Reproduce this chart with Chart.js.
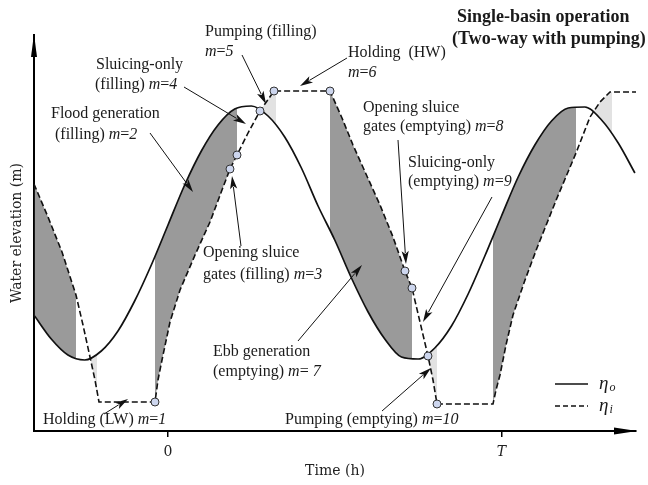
<!DOCTYPE html>
<html><head><meta charset="utf-8">
<script src="https://cdn.jsdelivr.net/npm/chart.js@4.4.1/dist/chart.umd.min.js"></script>
<style>html,body{margin:0;padding:0;background:#fff;}canvas{display:block;}</style>
</head><body>
<canvas id="c" width="648" height="485"></canvas>
<script>
// time in fractions of the tidal period T; elevation in m (schematic)
const oceanTime = [-0.40,-0.35,-0.30,-0.25,-0.20,-0.15,-0.10,-0.05,0.00,0.05,0.10,0.15,0.20,0.25,0.30,0.35,0.40,0.45,0.50,0.55,0.60,0.65,0.70,0.75,0.80,0.85,0.90,0.95,1.00,1.05,1.10,1.15,1.20,1.25,1.30,1.35,1.40];
const oceanLevel = [1.15,0.92,0.76,0.71,0.80,1.00,1.30,1.66,2.06,2.46,2.80,3.06,3.22,3.25,3.15,2.94,2.63,2.25,1.91,1.53,1.19,0.92,0.74,0.72,0.83,1.05,1.37,1.75,2.15,2.54,2.86,3.10,3.23,3.24,3.11,2.88,2.58];
const basinTime = [-0.4018,-0.3598,-0.3178,-0.2759,-0.2549,-0.2339,-0.2189,-0.2069,-0.0390,-0.0300,-0.0180,0.0060,0.0360,0.0810,0.1259,0.1619,0.1859,0.2069,0.2399,0.2759,0.2969,0.3178,0.4858,0.5217,0.5547,0.5937,0.6357,0.6747,0.7106,0.7316,0.7556,0.7796,0.7946,0.8066,0.9745,0.9835,0.9955,1.0135,1.0345,1.0705,1.1064,1.1664,1.1994,1.2234,1.2444,1.2654,1.2954,1.3253,1.4033];
const basinLevel = [2.47,2.14,1.79,1.36,1.06,0.74,0.51,0.29,0.29,0.51,0.71,1.09,1.41,1.76,2.09,2.41,2.62,2.76,2.98,3.20,3.30,3.40,3.40,3.13,2.86,2.57,2.26,1.94,1.60,1.43,1.09,0.75,0.51,0.27,0.27,0.41,0.56,0.86,1.16,1.51,1.83,2.33,2.59,2.78,2.96,3.14,3.29,3.39,3.39];
// generation windows (dark) and pumping windows (light)
const generationWindows = [[-0.40,-0.2759],[-0.0390,0.2069],[0.4858,0.7316],[0.9745,1.2234]];
const pumpingWindows = [[-0.2339,-0.2129],[0.2759,0.3238],[0.7796,0.8066],[1.2754,1.3313]];
// mode-switch instants marked with circles
const switchTimes = [-0.0390,0.1859,0.2069,0.2759,0.3178,0.4858,0.7106,0.7316,0.7796,0.8066];
const tickValues = [0, 1];
const tickLabels = ['0', 'T'];

function interp(ts, vs, t){
  for (let i=0;i<ts.length-1;i++){
    if (t>=ts[i] && t<=ts[i+1]){
      const f=(t-ts[i])/(ts[i+1]-ts[i]); return vs[i]+f*(vs[i+1]-vs[i]);
    }
  }
  return t<ts[0]?vs[0]:vs[vs.length-1];
}
function windowPoints(a,b){
  const pts=[{x:a,y:interp(basinTime,basinLevel,a)}];
  basinTime.forEach((t,i)=>{ if(t>a && t<b) pts.push({x:t,y:basinLevel[i]}); });
  pts.push({x:b,y:interp(basinTime,basinLevel,b)});
  return pts;
}
const DARK='#9a9a9a', LIGHT='#e2e2e2';
const datasets = [
  {label:'eta_o', data:oceanTime.map((t,i)=>({x:t,y:oceanLevel[i]})), borderColor:'#111', borderWidth:1.7,
   pointRadius:0, cubicInterpolationMode:'monotone', fill:false},
  {label:'eta_i', data:basinTime.map((t,i)=>({x:t,y:basinLevel[i]})), borderColor:'#111', borderWidth:1.6,
   borderDash:[6,3], pointRadius:0, tension:0, fill:false}
];
generationWindows.forEach(w=>datasets.push({data:windowPoints(w[0],w[1]), borderWidth:0, borderColor:'rgba(0,0,0,0)',
  pointRadius:0, backgroundColor:DARK, fill:0, tension:0}));
pumpingWindows.forEach(w=>datasets.push({data:windowPoints(w[0],w[1]), borderWidth:0, borderColor:'rgba(0,0,0,0)',
  pointRadius:0, backgroundColor:LIGHT, fill:0, tension:0}));
datasets.push({data:switchTimes.map(t=>({x:t,y:interp(basinTime,basinLevel,t)})), showLine:false, order:-1,
  pointRadius:4, pointBackgroundColor:'#cdd6ee', pointBorderColor:'#333', pointBorderWidth:1});

// annotation texts (pixel anchors, left/middle); *...* = italic
const notes = [
  [205,32,'Pumping (filling)'],[205,52,'*m*=*5*'],
  [96,65,'Sluicing-only'],[95,85,'(filling) *m*=*4*'],
  [51,114,'Flood generation'],[55,135,'(filling) *m*=*2*'],
  [348,53,'Holding  (HW)'],[348,73,'*m*=*6*'],
  [363,108,'Opening sluice'],[363,127,'gates (emptying) *m*=*8*'],
  [408,163,'Sluicing-only'],[408,182,'(emptying) *m*=*9*'],
  [203,253,'Opening sluice'],[203,275,'gates (filling) *m*=*3*'],
  [213,352,'Ebb generation'],[213,372,'(emptying) *m*= *7*'],
  [43,420,'Holding (LW) *m*=*1*'],[285,420,'Pumping (emptying) *m*=*10*']
];
// arrows in data coordinates: tail(t,y) -> tip(t,y)
const arrows = [
  [0.2219,3.76,0.2939,3.27],[0.0480,3.44,0.2339,3.07],[-0.0540,2.98,0.0750,2.39],
  [0.5367,3.73,0.3958,3.45],[0.2189,1.85,0.1919,2.55],[0.6897,2.91,0.7136,1.67],
  [0.9715,2.34,0.7646,1.09],[0.3898,0.90,0.5817,1.66],[-0.1919,0.17,-0.1199,0.32],
  [0.6417,0.20,0.7886,0.63]
];

function runs(ctx,x,y,str,size){
  const parts=str.split('*');
  parts.forEach((p,i)=>{
    if(!p) return;
    ctx.font=(i%2?'italic ':'')+size+'px "Liberation Serif"';
    ctx.fillText(p,x,y); x+=ctx.measureText(p).width;
  });
}
function arrow(ctx,x1,y1,x2,y2){
  const a=Math.atan2(y2-y1,x2-x1), L=13, W=3.6;
  const bx=x2-L*Math.cos(a), by=y2-L*Math.sin(a);
  ctx.beginPath(); ctx.moveTo(x1,y1); ctx.lineTo(bx+2*Math.cos(a),by+2*Math.sin(a)); ctx.stroke();
  ctx.beginPath(); ctx.moveTo(x2,y2);
  ctx.lineTo(bx+W*Math.sin(a),by-W*Math.cos(a));
  ctx.lineTo(bx+3*Math.cos(a),by+3*Math.sin(a));
  ctx.lineTo(bx-W*Math.sin(a),by+W*Math.cos(a)); ctx.closePath(); ctx.fill();
}
const decor = {
  id:'decor',
  afterDraw(chart){
    const ctx=chart.ctx, xs=chart.scales.x, ys=chart.scales.y, ca=chart.chartArea;
    ctx.save();
    ctx.fillStyle='#000'; ctx.strokeStyle='#000';
    // axis arrowheads
    ctx.beginPath(); ctx.moveTo(ca.left,ca.top-1); ctx.lineTo(ca.left-3,ca.top+22); ctx.lineTo(ca.left+3,ca.top+22); ctx.closePath(); ctx.fill();
    ctx.beginPath(); ctx.moveTo(ca.right+1,ca.bottom); ctx.lineTo(ca.right-22,ca.bottom-3.5); ctx.lineTo(ca.right-22,ca.bottom+3.5); ctx.closePath(); ctx.fill();
    // arrows
    ctx.lineWidth=1; ctx.fillStyle='#111'; ctx.strokeStyle='#111';
    arrows.forEach(a=>arrow(ctx,xs.getPixelForValue(a[0]),ys.getPixelForValue(a[1]),xs.getPixelForValue(a[2]),ys.getPixelForValue(a[3])));
    // texts
    ctx.fillStyle='#1a1a1a'; ctx.textBaseline='middle'; ctx.textAlign='left';
    notes.forEach(n=>runs(ctx,n[0],n[1],n[2],16));
    ctx.font='bold 18px "Liberation Serif"';
    ctx.fillText('Single-basin operation',457,17);
    ctx.fillText('(Two-way with pumping)',452,39);
    // legend
    ctx.strokeStyle='#111'; ctx.lineWidth=1.6;
    ctx.beginPath(); ctx.moveTo(555,384); ctx.lineTo(588,384); ctx.stroke();
    ctx.setLineDash([5,3]); ctx.beginPath(); ctx.moveTo(555,406); ctx.lineTo(588,406); ctx.stroke(); ctx.setLineDash([]);
    [['o',384],['i',406]].forEach(([s,y])=>{
      ctx.font='italic 19px "Liberation Serif"'; ctx.fillText('η',599,y);
      const w=ctx.measureText('η').width;
      ctx.font='italic 12px "Liberation Serif"'; ctx.fillText(s,599+w+1,y+4);
    });
    ctx.restore();
  }
};

new Chart(document.getElementById('c'),{
  type:'line',
  data:{datasets},
  options:{
    responsive:false, animation:false, events:[],
    layout:{padding:{left:0,right:12,top:35,bottom:0}},
    plugins:{legend:{display:false}, tooltip:{enabled:false}, filler:{drawTime:'beforeDatasetsDraw', propagate:false}},
    scales:{
      x:{type:'linear', min:-0.4018, max:1.4033,
        afterBuildTicks:s=>{ s.ticks=tickValues.map(v=>({value:v})); },
        afterFit:s=>{ s.height=54; },
        ticks:{autoSkip:false, maxRotation:0, padding:7, color:'#222',
          callback:(v,i)=>tickLabels[i],
          font:c=>({family:'DejaVu Serif', size:14, style:(c.tick && c.tick.value===1)?'italic':'normal'})},
        grid:{display:true, drawOnChartArea:false, drawTicks:true, tickLength:6, color:'#000', lineWidth:1.5},
        border:{display:true, color:'#000', width:2},
        title:{display:true, text:'Time (h)', color:'#222', font:{family:'DejaVu Serif', size:14}, padding:{top:0,bottom:5}}
      },
      y:{type:'linear', min:0, max:3.96,
        afterFit:s=>{ s.width=34; },
        ticks:{display:false}, grid:{display:false},
        border:{display:true, color:'#000', width:2},
        title:{display:true, text:'Water elevation (m)', color:'#222', font:{family:'DejaVu Serif', size:14}, padding:{top:9,bottom:0}}
      }
    }
  },
  plugins:[decor]
});
</script>
</body></html>
